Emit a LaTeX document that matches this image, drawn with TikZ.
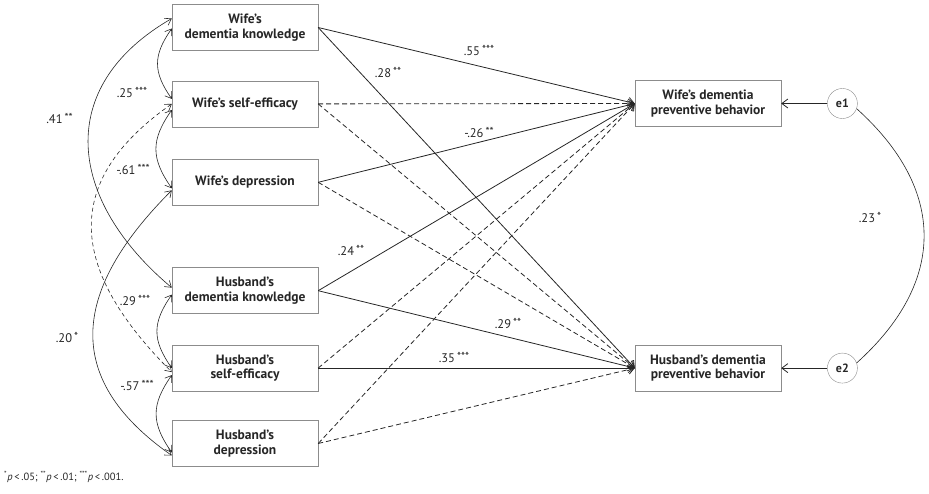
\documentclass[tikz,border=0pt]{standalone}
\usepackage{fontspec}
\setmainfont{PT Sans}
\usepackage{tikz}
\usetikzlibrary{positioning,arrows.meta}
\definecolor{pathink}{HTML}{262626}
\definecolor{boxedge}{HTML}{8C8C8C}
\newcommand{\sig}[1]{\,\raisebox{2pt}{\fontsize{11.5}{12}\selectfont #1}}

\begin{document}
\begin{tikzpicture}[
  x=1pt,y=1pt,
  var/.style={draw=boxedge,fill=white,minimum width=146pt,minimum height=46pt,inner sep=1pt,align=center,text=pathink,font=\fontsize{13.5}{14.5}\selectfont\bfseries},
  err/.style={circle,draw=boxedge,fill=white,minimum size=30pt,inner sep=0pt,text=pathink,font=\fontsize{12}{13}\selectfont\bfseries},
  coef/.style={inner sep=0pt,text=pathink,font=\fontsize{12.5}{13}\selectfont},
  eff/.style={draw=pathink,line width=0.8pt,-{Straight Barb[length=6pt,width=9pt]}},
  ns/.style={eff,dash pattern=on 5pt off 3pt},
  cov/.style={draw=pathink,line width=0.6pt,{Straight Barb[length=6pt,width=8pt]}-{Straight Barb[length=6pt,width=8pt]}}
]
\useasboundingbox (0,0) rectangle (929,493);

% exogenous variables, wife on top, husband below
\node[var] (wdk) at (245,465.5) {Wife’s\\dementia knowledge};
\node[var,below=30pt of wdk] (wse) {Wife’s self-efficacy};
\node[var,below=32pt of wse] (wdep) {Wife’s depression};
\node[var,below=62pt of wdep] (hdk) {Husband’s\\dementia knowledge};
\node[var,below=31pt of hdk] (hse) {Husband’s\\self-efficacy};
\node[var,below=29pt of hse] (hdep) {Husband’s\\depression};

% outcomes and residuals
\node[var] (wpb) at (708,389.5) {Wife’s dementia\\preventive behavior};
\node[var] (hpb) at (wpb |- hse) {Husband’s dementia\\preventive behavior};
\node[err,right=46pt of wpb] (e1) {e1};
\node[err,right=46pt of hpb] (e2) {e2};

% paths
\foreach \src/\dst/\kind in {wdk/wpb/eff,wdk/hpb/eff,wse/wpb/ns,wse/hpb/ns,wdep/wpb/eff,wdep/hpb/ns,
  hdk/wpb/eff,hdk/hpb/eff,hse/wpb/ns,hse/hpb/eff,hdep/wpb/ns,hdep/hpb/ns}
  \draw[\kind] (\src.east) -- (\dst.west);
\draw[eff] (e1) -- (wpb);
\draw[eff] (e2) -- (hpb);

% covariances
\draw[cov] ([yshift=-1pt]wdk.west) to[out=235,in=125,looseness=1.2] ([yshift=5pt]wse.west);
\draw[cov] ([yshift=-6pt]wse.west) to[out=235,in=125,looseness=1.2] ([yshift=-6pt]wdep.west);
\draw[cov] ([yshift=-4pt]hdk.west) to[out=235,in=125,looseness=1.2] (hse.west);
\draw[cov] ([yshift=-7pt]hse.west) to[out=235,in=125,looseness=1.2] ([yshift=-9pt]hdep.west);
\draw[cov] ([yshift=9pt]wdk.west) to[out=210,in=140,looseness=1.3] ([yshift=3pt]hdk.west);
\draw[cov,dash pattern=on 4pt off 3pt] (wse.west) to[out=215,in=135,looseness=1.34] ([yshift=-4pt]hse.west);
\draw[cov] ([yshift=-8pt]wdep.west) to[out=225,in=145,looseness=1.33] ([yshift=-12pt]hdep.west);
\draw[pathink,line width=0.6pt] (e1.-20) to[out=-42,in=42,looseness=1.22] (e2.20);

% coefficients
\node[coef] (c41) at (59.5,375) {.41\sig{**}};
\node[coef] (c25) at (132,401) {.25\sig{***}};
\node[coef] (c61) at (133,324) {-.61\sig{***}};
\node[coef] (c20) at (67,156) {.20\sig{*}};
\node[coef] (c29a) at (135,193) {.29\sig{***}};
\node[coef] (c57) at (137,108) {-.57\sig{***}};
\node[coef] (c55) at (479,443) {.55\sig{***}};
\node[coef] (c28) at (388,421) {.28\sig{**}};
\node[coef] (c26) at (479,361) {-.26\sig{**}};
\node[coef] (c24) at (351,243) {.24\sig{**}};
\node[coef] (c29b) at (508,170) {.29\sig{**}};
\node[coef] (c35) at (454,136) {.35\sig{***}};
\node[coef] (c23) at (870,276) {.23\sig{*}};

\node[coef,anchor=west,font=\fontsize{10.5}{12}\selectfont] (note) at (4,16)
  {\textsuperscript{*}\textit{p}\,<\,.05; \textsuperscript{**}\textit{p}\,<\,.01; \textsuperscript{***}\textit{p}\,<\,.001.};
\end{tikzpicture}
\end{document}
